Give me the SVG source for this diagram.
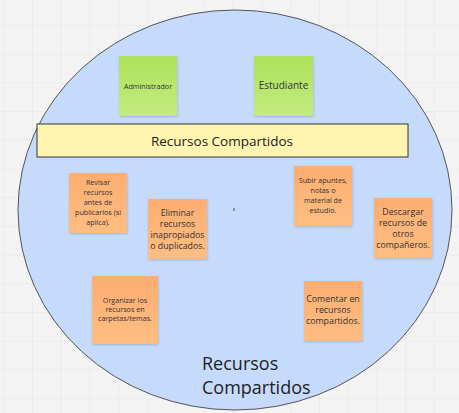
<svg xmlns="http://www.w3.org/2000/svg" width="459" height="413" viewBox="0 0 459 413">
<defs>
<pattern id="grid" x="3.3" y="-3.7" width="28.7" height="28.7" patternUnits="userSpaceOnUse">
<path d="M0 0 H28.7 M0 0 V28.7" fill="none" stroke="#e6e6e6" stroke-width="1"/>
</pattern>
<linearGradient id="gGreen" x1="0" y1="0" x2="0" y2="1">
<stop offset="0" stop-color="#ade25a"/>
<stop offset="1" stop-color="#c3eb80"/>
</linearGradient>
<linearGradient id="gOrange" x1="0" y1="0" x2="0" y2="1">
<stop offset="0" stop-color="#fdae70"/>
<stop offset="1" stop-color="#ffbd82"/>
</linearGradient>
<filter id="sh" x="-20%" y="-20%" width="140%" height="140%">
<feDropShadow dx="0.5" dy="1" stdDeviation="0.8" flood-color="#000" flood-opacity="0.18"/>
</filter>
</defs>
<style>
.note{fill:url(#gOrange);filter:url(#sh)}
.green{fill:url(#gGreen);filter:url(#sh)}
text{font-family:"Open Sans","Noto Sans","DejaVu Sans",sans-serif;fill:#333;text-anchor:middle}
.s7{font-size:7.2px}
.s9{font-size:8.8px}
</style>
<rect width="459" height="413" fill="#f3f3f3"/>
<rect width="459" height="413" fill="url(#grid)"/>
<g id="container">
<ellipse cx="235" cy="210" rx="217" ry="200" fill="#c6dbfb" stroke="#555" stroke-width="1"/>
<text x="202" y="370" style="font-size:18px;text-anchor:start;fill:#222">Recursos</text>
<text x="202" y="394" style="font-size:18px;text-anchor:start;fill:#222">Compartidos</text>
</g>
<g id="admin">
<rect class="green" x="119" y="56" width="58" height="60"/>
<text class="s7" x="148" y="88.5">Administrador</text>
</g>
<g id="estudiante">
<rect class="green" x="254" y="56" width="59" height="60"/>
<text x="283.5" y="89" style="font-size:10px">Estudiante</text>
</g>
<g id="recursos-bar">
<rect x="37" y="124" width="371" height="33" fill="#fff5b1" stroke="#333" stroke-width="1"/>
<text x="222" y="146" style="font-size:13.5px;fill:#222">Recursos Compartidos</text>
</g>
<g id="revisar">
<rect class="note" x="69" y="173" width="58" height="60"/>
<text class="s7"><tspan x="98" y="185">Revisar</tspan><tspan x="98" y="195">recursos</tspan><tspan x="98" y="205">antes de</tspan><tspan x="98" y="215">publicarlos (si</tspan><tspan x="98" y="225">aplica).</tspan></text>
</g>
<g id="eliminar">
<rect class="note" x="148" y="199" width="59" height="60"/>
<text class="s9"><tspan x="177.5" y="216">Eliminar</tspan><tspan x="177.5" y="227">recursos</tspan><tspan x="177.5" y="238">inapropiados</tspan><tspan x="177.5" y="249">o duplicados.</tspan></text>
</g>
<g id="organizar">
<rect class="note" x="92" y="276" width="66" height="68"/>
<text class="s7"><tspan x="125" y="303">Organizar los</tspan><tspan x="125" y="312">recursos en</tspan><tspan x="125" y="321">carpetas/temas.</tspan></text>
</g>
<g id="subir">
<rect class="note" x="294" y="166" width="58" height="60"/>
<text class="s7"><tspan x="323" y="183">Subir apuntes,</tspan><tspan x="323" y="193">notas o</tspan><tspan x="323" y="203">material de</tspan><tspan x="323" y="213">estudio.</tspan></text>
</g>
<g id="descargar">
<rect class="note" x="374" y="198" width="58" height="60"/>
<text class="s9"><tspan x="403" y="215">Descargar</tspan><tspan x="403" y="226">recursos de</tspan><tspan x="403" y="237">otros</tspan><tspan x="403" y="248">compañeros.</tspan></text>
</g>
<g id="comentar">
<rect class="note" x="304" y="281" width="58" height="60"/>
<text class="s9"><tspan x="333" y="302">Comentar en</tspan><tspan x="333" y="313">recursos</tspan><tspan x="333" y="324">compartidos.</tspan></text>
</g>
<g id="connectors"></g>
<rect x="233" y="208" width="2" height="3" fill="#8890a0"/>
</svg>
